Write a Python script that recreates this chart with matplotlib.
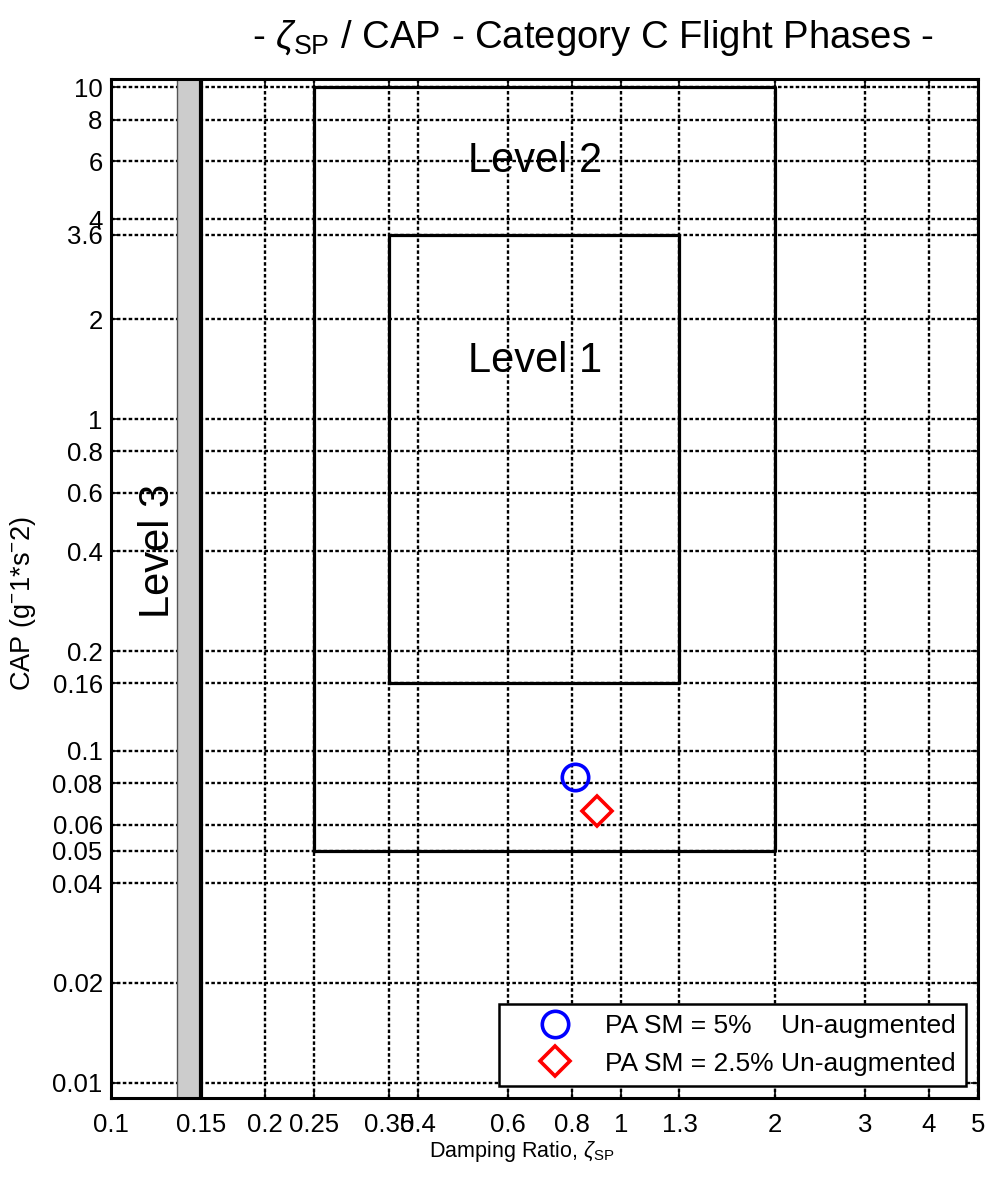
import matplotlib
matplotlib.use("Agg")
from matplotlib import pyplot as plt
import numpy as np

plt.rcParams['font.family'] = ['Liberation Sans', 'DejaVu Sans']
plt.rcParams['mathtext.fontset'] = 'custom'
plt.rcParams['mathtext.rm'] = 'Liberation Sans'
plt.rcParams['mathtext.it'] = 'Liberation Sans:italic'
plt.rcParams['mathtext.sf'] = 'Liberation Sans'

# CAP handling-quality boundaries, category C flight phases
level1_zeta = [0.35, 1.3]
level1_cap = [0.16, 3.6]
level2_zeta = [0.25, 2.0]
level2_cap = [0.05, 10.0]
level3_zeta = [0.135, 0.15]

# short-period damping / CAP points
labels = ['PA SM = 5%    Un-augmented', 'PA SM = 2.5% Un-augmented']
zeta_sp = [0.81, 0.895]
cap = [0.0835, 0.066]

xticks = [0.1, 0.15, 0.2, 0.25, 0.35, 0.4, 0.6, 0.8, 1, 1.3, 2, 3, 4, 5]
xticklabels = ['0.1', '0.15', '0.2', '0.25', '0.35', '0.4', '0.6', '0.8', '1', '1.3', '2', '3', '4', '5']
yticks = [0.01, 0.02, 0.04, 0.05, 0.06, 0.08, 0.1, 0.16, 0.2, 0.4, 0.6, 0.8, 1, 2, 3.6, 4, 6, 8, 10]
yticklabels = ['0.01', '0.02', '0.04', '0.05', '0.06', '0.08', '0.1', '0.16', '0.2', '0.4', '0.6', '0.8',
               '1', '2', '3.6', '4', '6', '8', '10']

fig = plt.figure(figsize=(9.9, 11.81), dpi=100)
ax = fig.add_axes([0.1121, 0.0703, 0.8758, 0.8628])
ax.set_xscale('log')
ax.set_yscale('log')
ax.set_xlim(0.1, 5)
ax.set_ylim(0.009, 10.6)

# level 3 band
ax.axvspan(level3_zeta[0], level3_zeta[1], facecolor='#cccccc', edgecolor='#555555', lw=1, zorder=2)
ax.axvline(level3_zeta[1], color='k', lw=3, zorder=3)

def box(zs, cs):
    ax.plot([zs[0], zs[1], zs[1], zs[0], zs[0]], [cs[0], cs[0], cs[1], cs[1], cs[0]],
            color='k', lw=2.3, zorder=3)

box(level2_zeta, level2_cap)
box(level1_zeta, level1_cap)

ax.text(0.5, 6, 'Level 2', fontsize=30, ha='left', va='center', zorder=4)
ax.text(0.5, 1.5, 'Level 1', fontsize=30, ha='left', va='center', zorder=4)
ax.text(0.1235, 0.40, 'Level 3', fontsize=30, rotation=90, ha='center', va='center', zorder=4)

ax.plot(zeta_sp[0], cap[0], 'o', ms=19, mfc='none', mec='b', mew=2.6, label=labels[0], zorder=5)
ax.plot(zeta_sp[1], cap[1], 'D', ms=15, mfc='none', mec='r', mew=2.6, label=labels[1], zorder=5)

ax.set_xticks(xticks)
ax.set_xticklabels(xticklabels)
ax.set_yticks(yticks)
ax.set_yticklabels(yticklabels)
ax.xaxis.set_minor_locator(matplotlib.ticker.NullLocator())
ax.yaxis.set_minor_locator(matplotlib.ticker.NullLocator())
ax.tick_params(labelsize=18.5, direction='in', length=5, width=1.2, top=True, right=True)
ax.tick_params(axis='x', pad=11)
ax.tick_params(axis='y', pad=6)
ax.grid(True, color='k', ls=(0, (1.5, 1)), lw=1.7, zorder=1)
for s in ax.spines.values():
    s.set_linewidth(2.2)

ax.set_xlabel(r'Damping Ratio, $\zeta_{\mathrm{SP}}$', fontsize=15.5)
ax.xaxis.set_label_coords(0.474, -0.04)
ax.set_ylabel(r'CAP (g$^{-}$1*s$^{-}$2)', fontsize=19.5)
ax.yaxis.set_label_coords(-0.084, 0.485)
ax.set_title(r'- $\zeta_{\mathrm{SP}}$ / CAP - Category C Flight Phases -', fontsize=27.5,
             x=0.556, pad=22)

leg = ax.legend(loc='lower right', fontsize=19, frameon=True, fancybox=False, framealpha=1,
                edgecolor='k', borderaxespad=0.45, handlelength=3.4, handletextpad=0.2,
                borderpad=0.4, labelspacing=0.5)
leg.get_frame().set_linewidth(1.8)

fig.savefig('out.png', dpi=100)
